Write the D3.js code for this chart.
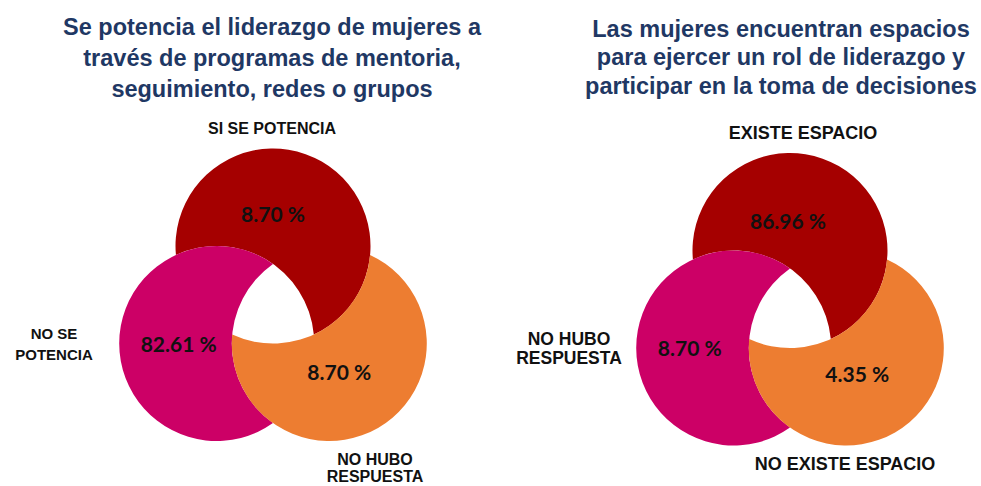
<!DOCTYPE html>
<html>
<head>
<meta charset="utf-8">
<script src="https://cdn.jsdelivr.net/npm/d3@7"></script>
<style>
  html, body { margin: 0; padding: 0; background: #ffffff; }
  svg { display: block; }
</style>
</head>
<body>
<svg id="chart" width="981" height="486"></svg>
<script>
// ---- Data ----
const leftTitle = ["Se potencia el liderazgo de mujeres a",
                   "través de programas de mentoria,",
                   "seguimiento, redes o grupos"];
const leftCategories = [["SI SE POTENCIA"], ["NO SE", "POTENCIA"], ["NO HUBO", "RESPUESTA"]];
const leftValues = [8.70, 82.61, 8.70];

const rightTitle = ["Las mujeres encuentran espacios",
                    "para ejercer un rol de liderazgo y",
                    "participar en la toma de decisiones"];
const rightCategories = [["EXISTE ESPACIO"], ["NO HUBO", "RESPUESTA"], ["NO EXISTE ESPACIO"]];
const rightValues = [86.96, 8.70, 4.35];

const circleColors = ["#A50000", "#CC0066", "#ED7D31"];

// ---- Layout ----
const R = 97.5;          // circle radius
const spread = 65;       // distance of each centre from the group centre
const angles = [-90, 150, 30]; // top, lower-left, lower-right

const panels = [
  {
    title: leftTitle, cats: leftCategories, vals: leftValues,
    titleX: 272, titleY: [35, 66, 97], cx: 273, cy: 311,
    valueOffsets: [[0, -24], [-38, 8], [10, 36]],
    labels: [
      {x: 272, y: [134], size: 16},
      {x: 54, y: [339, 360], size: 15},
      {x: 375, y: [465, 482], size: 16}
    ]
  },
  {
    title: rightTitle, cats: rightCategories, vals: rightValues,
    titleX: 781, titleY: [37, 65, 94], cx: 790, cy: 315.5,
    valueOffsets: [[-2, -22], [-44, 8], [11, 34]],
    labels: [
      {x: 803, y: [139], size: 18},
      {x: 569, y: [345, 364], size: 17.5},
      {x: 845, y: [470], size: 18}
    ]
  }
];

const fmt = v => d3.format(".2f")(v) + " %";
const svg = d3.select("#chart");
const toRad = d3.scaleLinear().domain([0, 360]).range([0, 2 * Math.PI]);

// Each circle is covered by the next one in the cycle:
// top is covered by lower-left, lower-left by lower-right, lower-right by top.
const coveredBy = [1, 2, 0];

// Crescent = circle a minus circle b (equal radii)
function crescent(a, b) {
  const dx = b.x - a.x, dy = b.y - a.y;
  const d = Math.hypot(dx, dy);
  const theta = Math.atan2(dy, dx);
  const alpha = Math.acos(d / (2 * R));
  const phi = theta + Math.PI;
  const p = d3.path();
  p.moveTo(a.x + R * Math.cos(theta + alpha), a.y + R * Math.sin(theta + alpha));
  p.arc(a.x, a.y, R, theta + alpha, theta + 2 * Math.PI - alpha, false);
  p.arc(b.x, b.y, R, phi + alpha, phi - alpha, true);
  p.closePath();
  return p.toString();
}

panels.forEach((p, pi) => {
  const circles = p.vals.map((v, i) => ({
    i, value: v, cat: p.cats[i], color: circleColors[i],
    x: p.cx + spread * Math.cos(toRad(angles[i])),
    y: p.cy + spread * Math.sin(toRad(angles[i]))
  }));

  const g = svg.append("g");

  // visible part of every circle
  g.selectAll("path.region")
    .data(circles).enter()
    .append("path")
    .attr("class", "region")
    .attr("d", d => crescent(d, circles[coveredBy[d.i]]))
    .attr("fill", d => d.color);

  // values inside the circles
  g.selectAll("text.value")
    .data(circles).enter()
    .append("text")
    .attr("class", "value")
    .attr("x", d => d.x + p.valueOffsets[d.i][0])
    .attr("y", d => d.y + p.valueOffsets[d.i][1])
    .attr("text-anchor", "middle")
    .attr("font-family", "Lato, 'Open Sans', sans-serif")
    .attr("font-weight", 700)
    .attr("font-size", 21)
    .attr("fill", "#111111")
    .text(d => fmt(d.value));

  // category labels around the circles
  circles.forEach(d => {
    const L = p.labels[d.i];
    const t = g.append("text")
      .attr("text-anchor", "middle")
      .attr("font-family", "'Liberation Sans', Arial, sans-serif")
      .attr("font-weight", 700)
      .attr("font-size", L.size)
      .attr("fill", "#111111");
    d.cat.forEach((line, li) => {
      t.append("tspan").attr("x", L.x).attr("y", L.y[li]).text(line);
    });
  });

  // panel title
  const title = g.append("text")
    .attr("text-anchor", "middle")
    .attr("font-family", "'Liberation Sans', Arial, sans-serif")
    .attr("font-weight", 700)
    .attr("font-size", 23.5)
    .attr("fill", "#1F3864");
  p.title.forEach((line, li) => {
    title.append("tspan").attr("x", p.titleX).attr("y", p.titleY[li]).text(line);
  });
});
</script>
</body>
</html>
